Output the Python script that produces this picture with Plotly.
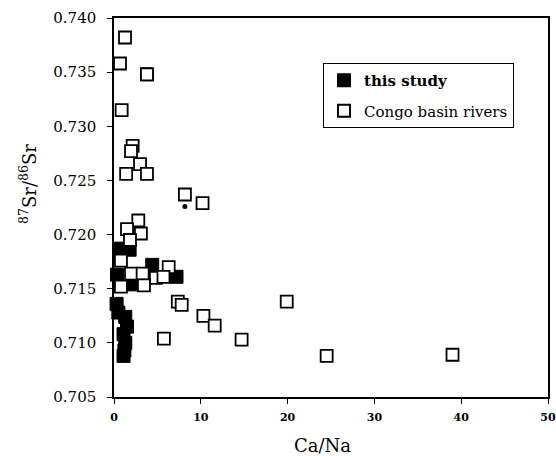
import plotly.graph_objects as go

# ---- data ----
study_x = [3.8, 0.7, 1.8, 0.35, 2.2, 4.4, 7.2, 0.3, 0.5, 1.3, 1.5, 1.1, 1.3, 1.2, 1.1]
study_y = [0.7348, 0.7187, 0.7186, 0.7163, 0.7154, 0.7172, 0.7161, 0.7136, 0.7128,
           0.7124, 0.7115, 0.7108, 0.7100, 0.7093, 0.7088]
study_small_x = [8.17]
study_small_y = [0.7226]

congo_x = [1.27, 0.69, 0.88, 2.15, 1.96, 3.0, 1.4, 3.8, 3.8, 8.17, 10.2, 2.8, 1.5,
           3.1, 1.84, 0.8, 1.96, 3.3, 4.83, 6.3, 5.7, 3.45, 0.8, 7.35, 7.8, 10.3,
           11.6, 5.75, 14.7, 19.9, 24.5, 39.0]
congo_y = [0.7382, 0.7358, 0.7315, 0.7282, 0.7277, 0.7265, 0.7256, 0.7256, 0.7348,
           0.7237, 0.7229, 0.7213, 0.7205, 0.7201, 0.7195, 0.7176, 0.7164, 0.7164,
           0.7160, 0.7170, 0.7161, 0.7153, 0.7152, 0.7138, 0.7135, 0.7125, 0.7116,
           0.7104, 0.7103, 0.7138, 0.7088, 0.7089]

x_ticks = [0, 10, 20, 30, 40, 50]
y_ticks = [0.705, 0.710, 0.715, 0.720, 0.725, 0.730, 0.735, 0.740]

SERIF = "DejaVu Serif"

fig = go.Figure()
fig.add_trace(go.Scatter(
    x=study_x, y=study_y, mode="markers", name="<b>this study</b>", legendgroup="a",
    marker=dict(symbol="square", size=13, color="black", line=dict(color="black", width=1)),
    cliponaxis=False))
fig.add_trace(go.Scatter(
    x=study_small_x, y=study_small_y, mode="markers", showlegend=False, legendgroup="a",
    marker=dict(symbol="circle", size=5, color="black"), cliponaxis=False))
fig.add_trace(go.Scatter(
    x=congo_x, y=congo_y, mode="markers", name="Congo basin rivers", legendgroup="b",
    marker=dict(symbol="square", size=12, color="white", line=dict(color="black", width=1.8)),
    cliponaxis=False))

fig.update_layout(
    width=556, height=456,
    margin=dict(l=114, r=8, t=18, b=59),
    paper_bgcolor="white", plot_bgcolor="white",
    font=dict(family=SERIF, color="black"),
    showlegend=True,
    legend=dict(x=0.4816, y=0.881, xanchor="left", yanchor="top",
                bordercolor="black", borderwidth=1, bgcolor="white",
                font=dict(family=SERIF, size=15), itemsizing="constant",
                traceorder="grouped", tracegroupgap=8),
    xaxis=dict(range=[0, 50], tickvals=x_ticks, ticktext=[str(v) for v in x_ticks],
               showgrid=False, zeroline=False, showline=True, linecolor="black",
               linewidth=1.5, mirror=True, ticks="outside", ticklen=5,
               tickcolor="black", tickfont=dict(family=SERIF, size=11, weight="bold"),
               ticklabelstandoff=4, automargin=False),
    yaxis=dict(range=[0.705, 0.740], tickvals=y_ticks,
               ticktext=["%.3f" % v for v in y_ticks],
               showgrid=False, zeroline=False, showline=True, linecolor="black",
               linewidth=1.5, mirror=True, ticks="outside", ticklen=5,
               tickcolor="black", tickfont=dict(family=SERIF, size=15),
               ticklabelstandoff=8, automargin=False),
    annotations=[
        dict(text="Ca/Na", x=0.481, y=-0.128, xref="paper", yref="paper",
             xanchor="center", yanchor="middle", showarrow=False,
             font=dict(family=SERIF, size=18)),
        dict(text="<sup>87</sup>Sr/<sup>86</sup>Sr", x=-0.198, y=0.562,
             xref="paper", yref="paper", xanchor="center", yanchor="middle",
             textangle=-90, showarrow=False, font=dict(family=SERIF, size=18)),
    ],
)

fig.write_html("out.html", config={"displayModeBar": False},
               post_script="document.body.style.margin='0';")
